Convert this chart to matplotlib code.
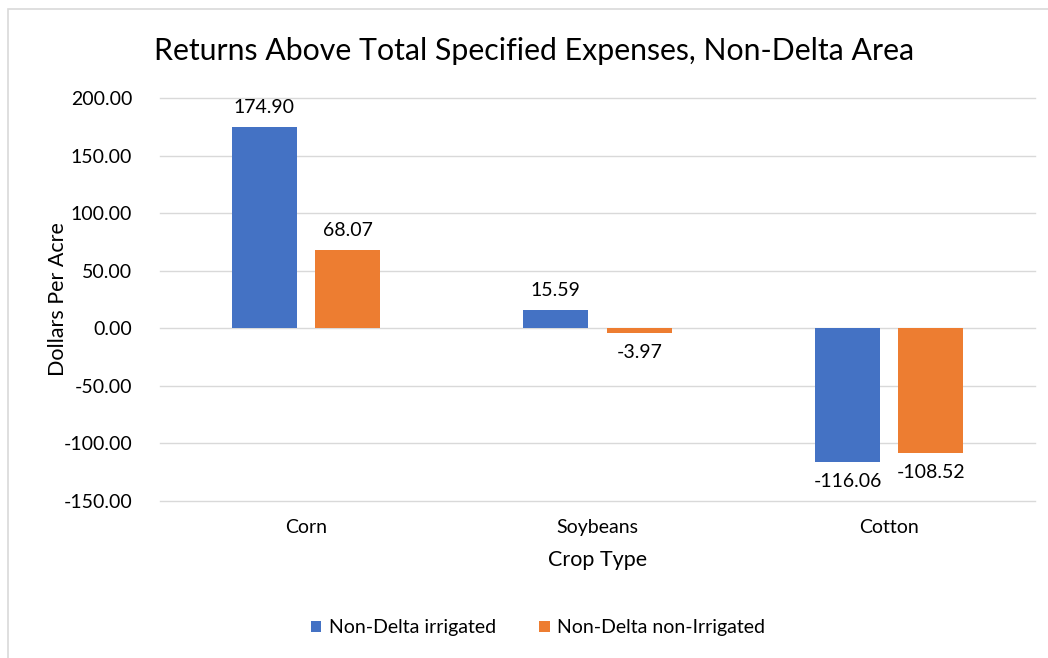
import matplotlib
matplotlib.use("Agg")
import matplotlib.pyplot as plt
from matplotlib.patches import Rectangle
import numpy as np

categories = ["Corn", "Soybeans", "Cotton"]
irrigated = [174.90, 15.59, -116.06]
non_irrigated = [68.07, -3.97, -108.52]
series_names = ["Non-Delta irrigated", "Non-Delta non-Irrigated"]
yticks = [-150, -100, -50, 0, 50, 100, 150, 200]

blue = "#4472C4"
orange = "#ED7D31"
font = ["Lato", "DejaVu Sans"]
plt.rcParams["font.family"] = font

W, H = 1048, 658
fig = plt.figure(figsize=(W / 100, H / 100), dpi=100)
ax = fig.add_axes([160 / W, 1 - 501 / H, 875 / W, (501 - 98) / H])

x = np.arange(len(categories))
bw = 0.223
off = 0.143
b1 = ax.bar(x - off, irrigated, bw, color=blue, label=series_names[0], zorder=3)
b2 = ax.bar(x + off, non_irrigated, bw, color=orange, label=series_names[1], zorder=3)

for bars, vals in ((b1, irrigated), (b2, non_irrigated)):
    for rect, v in zip(bars, vals):
        cx = rect.get_x() + rect.get_width() / 2
        if v >= 0:
            ax.annotate(f"{v:.2f}", (cx, v), xytext=(0, 8), textcoords="offset points",
                        ha="center", va="bottom", fontsize=14, color="#000000")
        else:
            ax.annotate(f"{v:.2f}", (cx, v), xytext=(0, -8), textcoords="offset points",
                        ha="center", va="top", fontsize=14, color="#000000")

ax.set_xlim(-0.5, len(categories) - 0.5)
ax.set_ylim(-150, 200)
ax.set_yticks(yticks)
ax.set_yticklabels([f"{t:.2f}" for t in yticks], fontsize=14)
ax.set_xticks(x)
ax.set_xticklabels(categories, fontsize=14)
ax.tick_params(axis="both", length=0)
ax.tick_params(axis="y", pad=20)
ax.tick_params(axis="x", pad=13)
ax.grid(axis="y", color="#D9D9D9", linewidth=1, zorder=0)
for gl in ax.get_ygridlines():
    gl.set_clip_on(False)
for s in ax.spines.values():
    s.set_visible(False)

ax.set_ylabel("Dollars Per Acre", fontsize=15.5, labelpad=-3)
ax.set_xlabel("Crop Type", fontsize=15.5, labelpad=10)
fig.text(534 / W, 1 - 51 / H, "Returns Above Total Specified Expenses, Non-Delta Area",
         ha="center", va="center", fontsize=21.8)

fig.legend(loc="center", bbox_to_anchor=(538 / W, 1 - 628 / H), ncol=2, frameon=False,
           fontsize=14, handlelength=0.55, handleheight=0.55, columnspacing=2.2, handletextpad=0.4)

fig.patches.append(Rectangle((8 / W, -0.1), 1.2, 1 - 9 / H + 0.1, transform=fig.transFigure,
                             fill=False, edgecolor="#D9D9D9", linewidth=1.2))

fig.savefig("out.png", dpi=100)
